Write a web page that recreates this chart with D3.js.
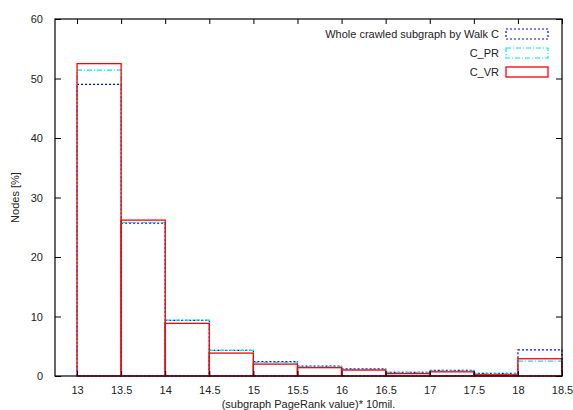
<!DOCTYPE html>
<html>
<head>
<meta charset="utf-8">
<script src="https://cdn.jsdelivr.net/npm/d3@7"></script>
<style>
  body { margin: 0; background: #fff; }
  svg text { font-family: "Liberation Sans", Arial, Helvetica, sans-serif; font-size: 11px; fill: #222; }
</style>
</head>
<body>
<div id="chart"></div>
<script>
// bin starts (each bin is 0.5 wide)
var binStarts = [13, 13.5, 14, 14.5, 15, 15.5, 16, 16.5, 17, 17.5, 18];
var binWidth = 0.5;

var seriesNames = ["Whole crawled subgraph by Walk C", "C_PR", "C_VR"];
var wholeC = [49.0, 25.7, 9.35, 4.3, 2.4, 1.65, 1.2, 0.6, 0.95, 0.45, 4.4];
var cPR    = [51.4, 25.8, 9.4, 4.3, 2.3, 1.6, 1.1, 0.6, 0.85, 0.35, 2.5];
var cVR    = [52.5, 26.2, 8.85, 3.85, 2.0, 1.4, 1.0, 0.4, 0.7, 0.2, 2.9];

var xTicks = [13, 13.5, 14, 14.5, 15, 15.5, 16, 16.5, 17, 17.5, 18, 18.5];
var yTicks = [0, 10, 20, 30, 40, 50, 60];

var W = 573, H = 410;
var margin = {top: 19, right: 11, bottom: 34, left: 55};

var svg = d3.select("#chart")
  .append("svg")
  .attr("width", W)
  .attr("height", H);

var x = d3.scaleLinear()
    .domain([12.75, 18.5])
    .range([margin.left, W - margin.right]);
var y = d3.scaleLinear()
    .domain([0, 60])
    .range([H - margin.bottom, margin.top]);

var styles = [
  {color: "#0000ff", dash: "2,2", values: wholeC},
  {color: "#00e5ee", dash: "5,2,1,2", values: cPR},
  {color: "#ff0000", dash: null, values: cVR}
];

// boxes
styles.forEach(function(s){
  svg.append("g")
    .selectAll("rect")
    .data(s.values)
    .enter()
    .append("rect")
      .attr("x", function(d, i){ return x(binStarts[i]); })
      .attr("y", function(d){ return y(d); })
      .attr("width", function(d, i){ return x(binStarts[i] + binWidth) - x(binStarts[i]); })
      .attr("height", function(d){ return y(0) - y(d); })
      .attr("fill", "none")
      .attr("stroke", s.color)
      .attr("stroke-width", s.dash ? 1.2 : 1.3)
      .attr("stroke-dasharray", s.dash);
});

var fmt = d3.format("~g");

// axes, ticks inward and mirrored
svg.append("g")
  .attr("transform", "translate(0," + y(0) + ")")
  .call(d3.axisBottom(x).tickValues(xTicks).tickFormat(fmt).tickSizeInner(-5).tickSizeOuter(0).tickPadding(10))
  .call(g => g.select(".domain").remove())
  .call(g => g.selectAll("text").style("font-size", "11px"));
svg.append("g")
  .attr("transform", "translate(0," + y(60) + ")")
  .call(d3.axisTop(x).tickValues(xTicks).tickSizeInner(-5).tickSizeOuter(0).tickFormat(""))
  .call(g => g.select(".domain").remove());
svg.append("g")
  .attr("transform", "translate(" + x(12.75) + ",0)")
  .call(d3.axisLeft(y).tickValues(yTicks).tickSizeInner(-6).tickSizeOuter(0).tickPadding(12))
  .call(g => g.select(".domain").remove())
  .call(g => g.selectAll("text").style("font-size", "11px"));
svg.append("g")
  .attr("transform", "translate(" + x(18.5) + ",0)")
  .call(d3.axisRight(y).tickValues(yTicks).tickSizeInner(-6).tickSizeOuter(0).tickFormat(""))
  .call(g => g.select(".domain").remove());

// border
svg.append("rect")
  .attr("x", x(12.75))
  .attr("y", y(60))
  .attr("width", x(18.5) - x(12.75))
  .attr("height", y(0) - y(60))
  .attr("fill", "none")
  .attr("stroke", "#000")
  .attr("stroke-width", 1.2);

// axis titles
svg.append("text")
  .attr("x", (x(12.75) + x(18.5)) / 2)
  .attr("y", H - 2)
  .attr("text-anchor", "middle")
  .text("(subgraph PageRank value)* 10mil.");
svg.append("text")
  .attr("transform", "translate(19," + (y(30)) + ") rotate(-90)")
  .attr("text-anchor", "middle")
  .text("Nodes [%]");

// legend
var legend = svg.append("g");
styles.forEach(function(s, i){
  var ly = 34 + i * 19;
  legend.append("text")
    .attr("x", 499)
    .attr("y", ly + 4)
    .attr("text-anchor", "end")
    .text(seriesNames[i]);
  legend.append("rect")
    .attr("x", 506)
    .attr("y", ly - 5)
    .attr("width", 42)
    .attr("height", 10)
    .attr("fill", "none")
    .attr("stroke", s.color)
    .attr("stroke-width", s.dash ? 1.2 : 1.3)
    .attr("stroke-dasharray", s.dash);
});
</script>
</body>
</html>
